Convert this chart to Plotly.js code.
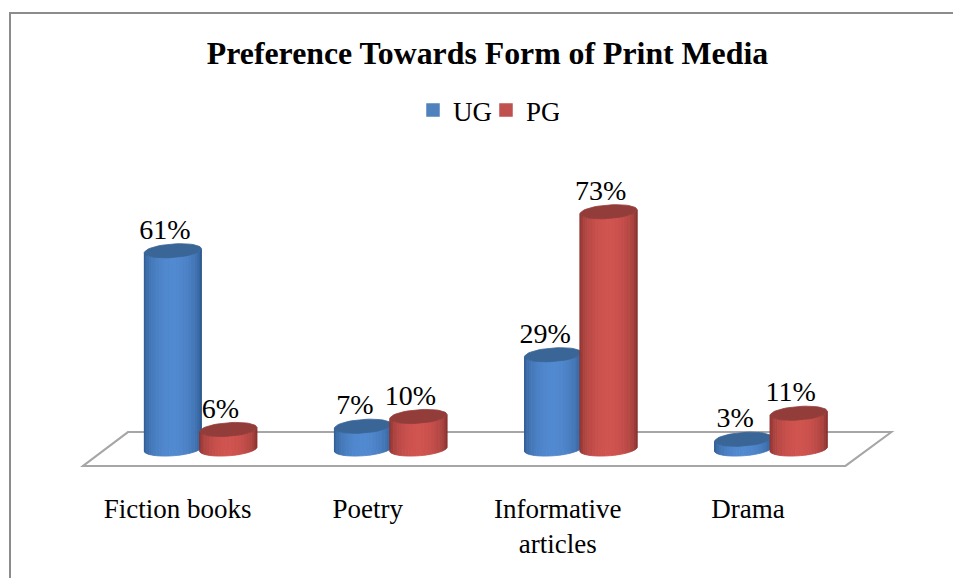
<!DOCTYPE html>
<html>
<head>
<meta charset="utf-8">
<script src="https://cdn.plot.ly/plotly-3.0.1.min.js"></script>
<style>html,body{margin:0;padding:0;background:#fff}#chart{width:953px;height:578px}</style>
</head>
<body>
<div id="chart"></div>
<script>
const categories = ["Fiction books", "Poetry", "Informative<br>articles", "Drama"];
const ugValues = [61, 7, 29, 3];
const pgValues = [6, 10, 73, 11];
const W = 953, H = 578;
const M = {l: 75, r: 57, t: 150, b: 108};
const xRange = [-0.6605, 3.658], yRange = [-6.46, 92];
const pxPerX = (W - M.l - M.r) / (xRange[1] - xRange[0]);
const pxPerY = (H - M.t - M.b) / (yRange[1] - yRange[0]);
const idx = categories.map((_, i) => i);
const barW = 0.30, off = 0.146;
const a = barW / 2, b = 6.8 / pxPerY, tilt = 2 / pxPerY;
const pal = {
  UG: {mid: "#4f81bd", lite: [82, 138, 208], dark: [44, 88, 142], cap: "#3a6597"},
  PG: {mid: "#c0504d", lite: [208, 84, 80], dark: [134, 50, 48], cap: "#933d3a"}
};
function rgb(c){return "rgb(" + c.map(Math.round).join(",") + ")";}
function mix(p, q, f){return p.map((v, i) => v + (q[i] - v) * f);}
function pt(cx, cy, s){return [cx - a * Math.cos(s), cy - b * Math.sin(s) - tilt * Math.cos(s)];}

const barTraces = [], cylTraces = [];
function addSeries(name, values, dx){
  const c = pal[name];
  barTraces.push({type: "bar", name: name, x: idx.map(i => i + dx), y: values, width: 0.2,
    marker: {color: c.mid, line: {color: c.mid, width: 1.5}}, showlegend: true, hoverinfo: "y"});
  values.forEach((v, i) => {
    const cx = i + dx, N = 26;
    for (let k = 0; k < N; k++) {
      const s0 = Math.PI * k / N, s1 = Math.PI * (k + 1) / N;
      const p = [pt(cx, 0, s0), pt(cx, 0, s1), pt(cx, v, s1), pt(cx, v, s0)];
      const col = rgb(mix(c.dark, c.lite, Math.pow(Math.sin((s0 + s1) / 2), 1.15)));
      cylTraces.push({type: "scatter", mode: "lines", fill: "toself", fillcolor: col,
        line: {color: col, width: 0.8}, x: p.map(q => q[0]).concat(p[0][0]),
        y: p.map(q => q[1]).concat(p[0][1]), showlegend: false, hoverinfo: "skip"});
    }
    const ex = [], ey = [];
    for (let k = 0; k <= 48; k++) { const q = pt(cx, v, 2 * Math.PI * k / 48); ex.push(q[0]); ey.push(q[1]); }
    cylTraces.push({type: "scatter", mode: "lines", fill: "toself", fillcolor: c.cap,
      line: {color: c.cap, width: 0.8}, x: ex, y: ey, showlegend: false, hoverinfo: "skip"});
  });
}
addSeries("UG", ugValues, -off * 1);
addSeries("PG", pgValues, off);

const lblDx = -8 / pxPerX, lblDy = 19 / pxPerY;
function labelTrace(values, dx){
  return {type: "scatter", mode: "text", x: idx.map(i => i + dx + lblDx), y: values.map(v => v + lblDy),
    text: values.map(v => v + "%"), textposition: "middle center", cliponaxis: false,
    textfont: {family: "Liberation Serif", size: 28, color: "#000"}, showlegend: false, hoverinfo: "skip"};
}
const floorX = [-0.618, -0.382, 3.634, 3.392], floorY = [-5.2, 5.2, 5.2, -5.2];
const floorPath = "M" + floorX.map((x, i) => x + "," + floorY[i]).join("L") + "Z";
const pw = W - M.l - M.r, ph = H - M.t - M.b;
const fx = p => (p - M.l) / pw, fy = p => 1 - (p - M.t) / ph;

const layout = {
  width: W, height: H, margin: M, paper_bgcolor: "#fff", plot_bgcolor: "rgba(0,0,0,0)",
  font: {family: "Liberation Serif", color: "#000"},
  title: {text: "<b>Preference Towards Form of Print Media</b>", xref: "paper", x: fx(487.5), xanchor: "center",
    yref: "container", y: 1 - 53 / H, yanchor: "middle", font: {family: "Liberation Serif", size: 31.8, color: "#000"}},
  barmode: "overlay",
  xaxis: {range: xRange, tickmode: "array", tickvals: idx.map(i => i - 0.121), ticktext: categories,
    showgrid: false, zeroline: false, showline: false, ticks: "", ticklabelstandoff: 20,
    tickfont: {family: "Liberation Serif", size: 27, color: "#000"}, tickangle: 0, fixedrange: true},
  yaxis: {range: yRange, visible: false, fixedrange: true},
  showlegend: true,
  legend: {orientation: "h", xref: "paper", yref: "paper", x: fx(413), y: fy(86), xanchor: "left", yanchor: "top",
    font: {family: "Liberation Serif", size: 27, color: "#000"}, entrywidthmode: "pixels", entrywidth: 28,
    itemclick: false, itemdoubleclick: false, bgcolor: "rgba(0,0,0,0)", traceorder: "normal"},
  shapes: [
    {type: "path", xref: "x", yref: "y", path: floorPath, layer: "below", fillcolor: "#fff",
      line: {color: "#a6a6a6", width: 2}},
    {type: "path", xref: "paper", yref: "paper", layer: "below", line: {color: "#8c8c8c", width: 2},
      path: "M" + fx(10) + "," + fy(578) + "L" + fx(10) + "," + fy(13) + "L" + fx(953) + "," + fy(13)}
  ]
};
Plotly.newPlot("chart", barTraces.concat(cylTraces, [labelTrace(ugValues, -off), labelTrace(pgValues, off)]), layout,
  {displayModeBar: false, staticPlot: false});
</script>
</body>
</html>
